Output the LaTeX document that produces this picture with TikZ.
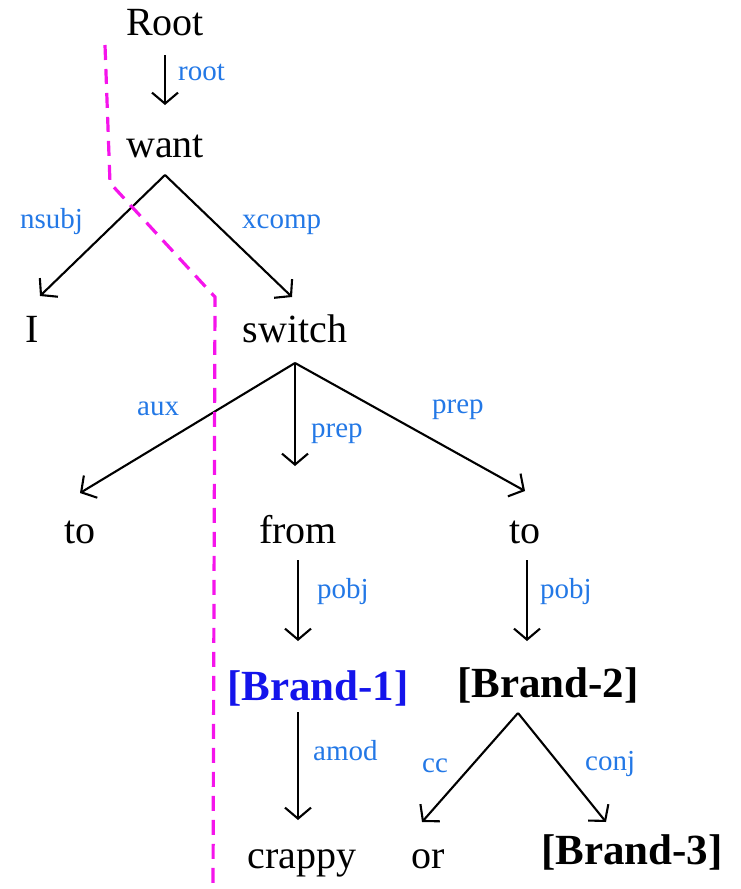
\documentclass[tikz,border=0pt]{standalone}
\usepackage{fontspec}
\setmainfont{Liberation Serif}
\usetikzlibrary{arrows.meta}
\definecolor{lblblue}{RGB}{35,120,230}
\definecolor{brandblue}{RGB}{20,20,235}
\definecolor{cutmag}{RGB}{245,20,235}
\tikzset{
  word/.style={anchor=base, inner sep=0pt, font=\fontsize{40}{44}\selectfont},
  brand/.style={anchor=base, inner sep=0pt, font=\fontsize{43}{46}\selectfont\bfseries},
  lbl/.style={anchor=base west, inner sep=0pt, text=lblblue, font=\fontsize{29}{32}\selectfont},
  arr/.style={line width=2.1pt, -{Straight Barb[length=11pt,width=26pt,line width=2.1pt]}},
  cut/.style={cutmag, line width=3.2pt, dash pattern=on 15pt off 9pt}
}
\begin{document}
\begin{tikzpicture}[x=1pt,y=-1pt]
\useasboundingbox (0,0) rectangle (741,889);
% words
\node[word] (root) at (165,35) {Root};
\node[word] (want) at (165,157) {want};
\node[word] (I) at (32,342) {I};
\node[word] (switch) at (295,342) {switch};
\node[word] (toA) at (80,543) {to};
\node[word] (from) at (298,543) {from};
\node[word] (toB) at (525,543) {to};
\node[brand, text=brandblue] (b1) at (318,700) {[Brand-1]};
\node[brand] (b2) at (548,697) {[Brand-2]};
\node[word] (crappy) at (302,868) {crappy};
\node[word] (or) at (428,868) {or};
\node[brand] (b3) at (632,864) {[Brand-3]};
% apex / tip coordinates
\coordinate (rootS) at (165,55);
\coordinate (wantA) at (165,175);
\coordinate (switchA) at (295,363);
\coordinate (fromS) at (298,560);
\coordinate (toBS) at (527,560);
\coordinate (b1S) at (298,712);
\coordinate (b2A) at (518,713);
\coordinate (tWant) at (165,105);
\coordinate (tI) at (40,296);
\coordinate (tSwitch) at (292,297);
\coordinate (tToA) at (80,493);
\coordinate (tFrom) at (295,466);
\coordinate (tToB) at (525,491);
\coordinate (tB1) at (298,641);
\coordinate (tB2) at (527,641);
\coordinate (tCrappy) at (298,820);
\coordinate (tOr) at (422,822);
\coordinate (tB3) at (606,822);
% connectors
\draw[arr] (rootS) -- (tWant);
\draw[arr] (wantA) -- (tI);
\draw[arr] (wantA) -- (tSwitch);
\draw[arr] (switchA) -- (tToA);
\draw[arr] (switchA) -- (tFrom);
\draw[arr] (switchA) -- (tToB);
\draw[arr] (fromS) -- (tB1);
\draw[arr] (toBS) -- (tB2);
\draw[arr] (b1S) -- (tCrappy);
\draw[arr] (b2A) -- (tOr);
\draw[arr] (b2A) -- (tB3);
% labels
\node[lbl] (lroot) at (178,80) {root};
\node[lbl] (lnsubj) at (20,228) {nsubj};
\node[lbl] (lxcomp) at (242,228) {xcomp};
\node[lbl] (laux) at (137,415) {aux};
\node[lbl] (lprep1) at (311,437) {prep};
\node[lbl] (lprep2) at (432,413) {prep};
\node[lbl] (lpobj1) at (317,598) {pobj};
\node[lbl] (lpobj2) at (540,598) {pobj};
\node[lbl] (lamod) at (313,760) {amod};
\node[lbl] (lcc) at (422,772) {cc};
\node[lbl] (lconj) at (585,770) {conj};
% cut line
\coordinate (c1) at (105,45);
\coordinate (c2) at (110,183);
\coordinate (c3) at (215,297);
\coordinate (c4) at (213,889);
\draw[cut] (c1) -- (c2) -- (c3) -- (c4);
\end{tikzpicture}
\end{document}
